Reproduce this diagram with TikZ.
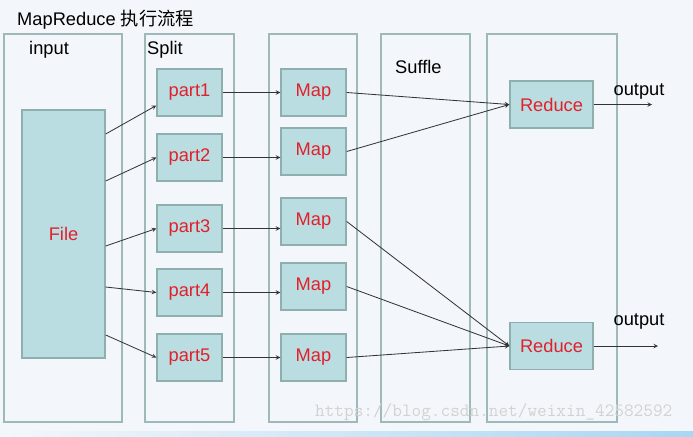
\documentclass[tikz,border=0pt]{standalone}
\usepackage{fontspec}
\setmainfont{Liberation Sans}
\newfontfamily\cjkfont{Noto Sans CJK SC}
\usetikzlibrary{arrows}
\definecolor{bgblue}{HTML}{F3F7FB}
\definecolor{barblue}{HTML}{A9D6F2}
\definecolor{boxfill}{HTML}{B9DDE1}
\definecolor{boxline}{HTML}{8FAEAE}
\definecolor{colline}{HTML}{9FB8B8}
\definecolor{txtred}{HTML}{E2202C}
\tikzstyle{every node}=[font=\fontsize{15.6}{18}\selectfont]
\tikzstyle{block}=[fill=boxfill,draw=boxline,line width=1.2pt,text=txtred,minimum height=1.41cm,inner sep=0pt]
\tikzstyle{label}=[anchor=west,inner sep=0pt]
\tikzstyle{flow}=[->,>=stealth,draw=black!80,line width=0.7pt]

\begin{document}
\begin{tikzpicture}[x=0.03cm, y=-0.03cm]
	% background and columns
	\fill[bgblue] (0,0) rectangle (693,436);
	\shade[left color=bgblue, right color=barblue] (0,431) rectangle (693,436);
	\draw[colline, line width=1.5pt] (4,34) rectangle (122,422);
	\draw[colline, line width=1.5pt] (145,34) rectangle (234,422);
	\draw[colline, line width=1.5pt] (269,34) rectangle (357,422);
	\draw[colline, line width=1.5pt] (381,34) rectangle (470,422);
	\draw[colline, line width=1.5pt] (487,34) rectangle (617,422);
	\node[anchor=west, text=gray!35, font=\ttfamily\fontsize{16}{18}\selectfont] (wm) at (311,412) {https://blog.csdn.net/weixin\_42582592};

	\node[label] (title) at (17,20) {MapReduce {\cjkfont 执行流程}};
	\node[label] (input) at (29,50) {input};
	\node[label] (split) at (147,50) {Split};
	\node[label] (suffle) at (395,67) {Suffle};
	\node (out1) at (639,91) {output};
	\node (out2) at (639,321) {output};

	\node[block, minimum width=2.49cm, minimum height=7.44cm] (file) at (63.5,234) {File};
	\foreach \y [count=\i] in {92.5,157.5,228.5,292.5,357.5}
		\node[block, minimum width=1.95cm] (p\i) at (189.5,\y) {part\i};
	\foreach \y [count=\i] in {92.5,151.5,221.5,286.5,357.5}
		\node[block, minimum width=1.95cm] (m\i) at (313.5,\y) {Map};
	\node[block, minimum width=2.49cm] (r1) at (551.5,104.5) {Reduce};
	\node[block, minimum width=2.49cm] (r2) at (551.5,346) {Reduce};
	\coordinate (o1) at (652,104.5);
	\coordinate (o2) at (658,346);

	\foreach \i/\a/\b in {1/3/-0.39, 2/1.59/0, 3/-0.36/0, 4/-1.59/0, 5/-3.03/0}
		\draw[flow] ([yshift=\a cm]file.east) -- ([yshift=\b cm]p\i.west);
	\foreach \i in {1,...,5}
		\draw[flow] (p\i.east) -- (p\i.east -| m\i.west);
	\foreach \i in {1,2}
		\draw[flow] (m\i.east) -- (r1.west);
	\foreach \i in {3,4,5}
		\draw[flow] (m\i.east) -- (r2.west);
	\draw[flow] (r1.east) -- (o1);
	\draw[flow] (r2.east) -- (o2);
\end{tikzpicture}
\end{document}
